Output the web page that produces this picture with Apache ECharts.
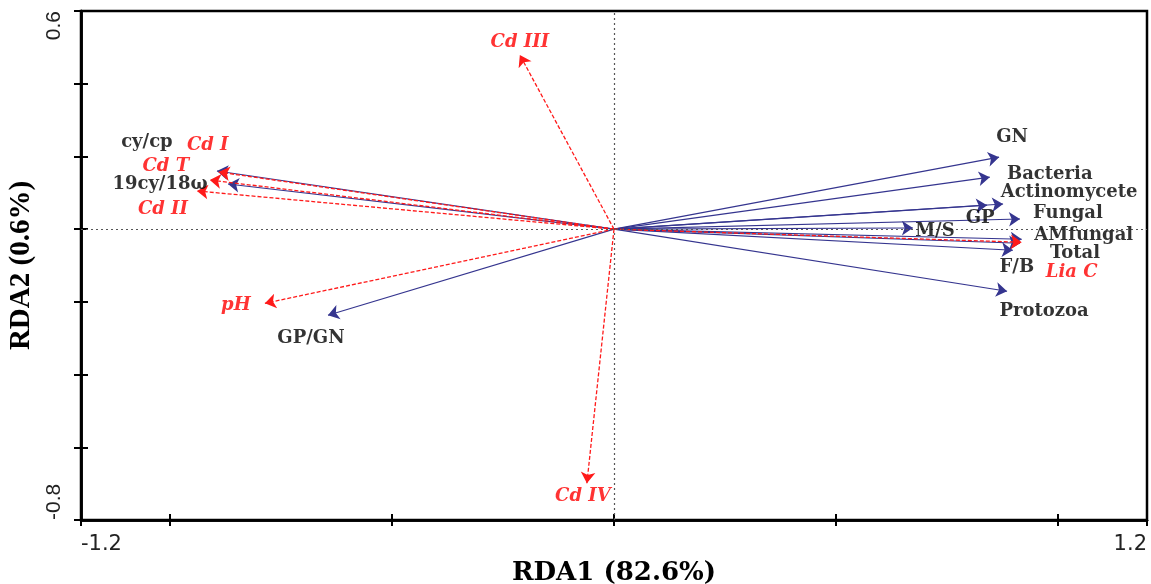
<!DOCTYPE html>
<html>
<head>
<meta charset="utf-8">
<script src="https://cdn.jsdelivr.net/npm/echarts@6/dist/echarts.min.js"></script>
<style>html,body{margin:0;padding:0;background:#fff}#c{width:1151px;height:584px}</style>
</head>
<body>
<div id="c"></div>
<script>
// Species (response variables) – blue solid arrows
const speciesNames = ['GN','Bacteria','Actinomycete','GP','Fungal','M/S','AMfungal','Total','F/B','Protozoa','cy/cp','19cy/18ω','GP/GN'];
const speciesX = [0.867, 0.846, 0.876, 0.840, 0.914, 0.673, 0.918, 0.914, 0.898, 0.885, -0.894, -0.869, -0.644];
const speciesY = [0.198, 0.143, 0.069, 0.066, 0.028, 0.003, -0.028, -0.039, -0.058, -0.171, 0.160, 0.124, -0.237];
// Environmental variables – red dashed arrows
const envNames = ['Cd I','Cd T','Cd II','Cd III','Cd IV','pH','Lia C'];
const envX = [-0.890, -0.910, -0.939, -0.212, -0.061, -0.786, 0.918];
const envY = [0.157, 0.135, 0.105, 0.479, -0.699, -0.204, -0.036];
// Axis ticks / labels
const xTicks = [-1.2, -1.0, -0.5, 0, 0.5, 1.0, 1.2];
const xTickLabels = [-1.2, 1.2];
const yTickLabels = [-0.8, 0.6];

// label pixel offsets (layout only)
const speciesLabelOffsets = [[13,-20],[60,-3],[66,-12],[-7,13],[48,-6],[22,3],[62,-4],[55,10],[4,17],[37,20],[-70,-29],[-68,0],[-17,23]];
const envLabelOffsets = [[-11,-27],[-44,-14],[-34,18],[0,-13],[-4,13],[-29,2],[50,30]];

const chart = echarts.init(document.getElementById('c'), null, {renderer:'canvas'});

const serifBold = 'DejaVu Serif';
const axisLineStyle = () => ({show:true, onZero:false, lineStyle:{color:'#000', width:2.5}});

const speciesLines = speciesNames.map((n,i)=>({name:n, coords:[[0,0],[speciesX[i],speciesY[i]]]}));
const envLines = envNames.map((n,i)=>({name:n, coords:[[0,0],[envX[i],envY[i]]]}));

const speciesLabels = speciesNames.map((n,i)=>({name:n, value:[speciesX[i],speciesY[i]], label:{offset:speciesLabelOffsets[i]}}));
const envLabels = envNames.map((n,i)=>({name:n, value:[envX[i],envY[i]], label:{offset:envLabelOffsets[i]}}));

chart.setOption({
  animation:false,
  backgroundColor:'#fff',
  grid:{left:81, right:4, top:11, bottom:64, show:true, borderColor:'#000', borderWidth:2.5,
        containLabel:false, outerBoundsMode:'none'},
  xAxis:[{
    type:'value', min:-1.2, max:1.2, position:'bottom', offset:0,
    axisLine:axisLineStyle(),
    splitLine:{show:false},
    axisTick:{show:true, inside:false, length:6, lineStyle:{color:'#000', width:2}, customValues:xTicks},
    axisLabel:{show:true, customValues:xTickLabels, margin:14, color:'#222', fontFamily:'DejaVu Sans', fontSize:21,
      alignMinLabel:'left', alignMaxLabel:'right', formatter:v=>String(v)},
    name:'RDA1 (82.6%)', nameLocation:'middle', nameGap:27,
    nameTextStyle:{fontFamily:serifBold, fontWeight:'bold', fontSize:26, color:'#000'}
  },{
    type:'value', min:-1.2, max:1.2, position:'bottom', offset:0,
    axisLine:axisLineStyle(), splitLine:{show:false}, axisLabel:{show:false},
    axisTick:{show:true, inside:true, length:6, lineStyle:{color:'#000', width:2}, customValues:xTicks}
  }],
  yAxis:[{
    type:'value', min:-0.8, max:0.6, interval:0.2, position:'left', offset:0,
    axisLine:axisLineStyle(),
    splitLine:{show:false},
    axisTick:{show:true, inside:false, length:7, lineStyle:{color:'#000', width:2}},
    axisLabel:{show:true, customValues:yTickLabels, rotate:90, margin:16, color:'#222', fontFamily:'Liberation Sans', fontSize:21,
      alignMinLabel:'left', alignMaxLabel:'right', formatter:v=>String(v)},
    name:'RDA2 (0.6%)', nameLocation:'middle', nameGap:38,
    nameTextStyle:{fontFamily:'Liberation Serif', fontWeight:'bold', fontSize:29, color:'#000'}
  },{
    type:'value', min:-0.8, max:0.6, interval:0.2, position:'left', offset:0,
    axisLine:axisLineStyle(), splitLine:{show:false}, axisLabel:{show:false},
    axisTick:{show:true, inside:true, length:7, lineStyle:{color:'#000', width:2}}
  }],
  series:[
    {
      type:'scatter', xAxisIndex:0, yAxisIndex:0, symbolSize:0, silent:true, data:[],
      markLine:{silent:true, symbol:'none', label:{show:false},
        lineStyle:{type:[2,3], color:'#555', width:1.2},
        data:[{xAxis:0},{yAxis:0}]}
    },
    {
      type:'scatter', xAxisIndex:1, yAxisIndex:1, symbolSize:0, silent:true, data:[]
    },
    {
      type:'lines', coordinateSystem:'cartesian2d', xAxisIndex:0, yAxisIndex:0,
      symbol:['none','arrow'], symbolSize:[8,11],
      lineStyle:{color:'#35358f', width:1.1, opacity:1},
      data:speciesLines, silent:true, z:3
    },
    {
      type:'lines', coordinateSystem:'cartesian2d', xAxisIndex:0, yAxisIndex:0,
      symbol:['none','arrow'], symbolSize:[8,11],
      lineStyle:{color:'#ff1a1a', width:1.3, type:[4,2], opacity:1},
      data:envLines, silent:true, z:4
    },
    {
      type:'scatter', xAxisIndex:0, yAxisIndex:0, symbolSize:0, silent:true, z:5,
      data:speciesLabels,
      label:{show:true, position:'inside', formatter:p=>p.name, color:'#000',
        fontFamily:serifBold, fontWeight:'bold', fontSize:18}
    },
    {
      type:'scatter', xAxisIndex:0, yAxisIndex:0, symbolSize:0, silent:true, z:5,
      data:envLabels,
      label:{show:true, position:'inside', formatter:p=>p.name, color:'#ff0000',
        fontFamily:serifBold, fontWeight:'bold', fontStyle:'italic', fontSize:18}
    }
  ]
});
</script>
</body>
</html>
